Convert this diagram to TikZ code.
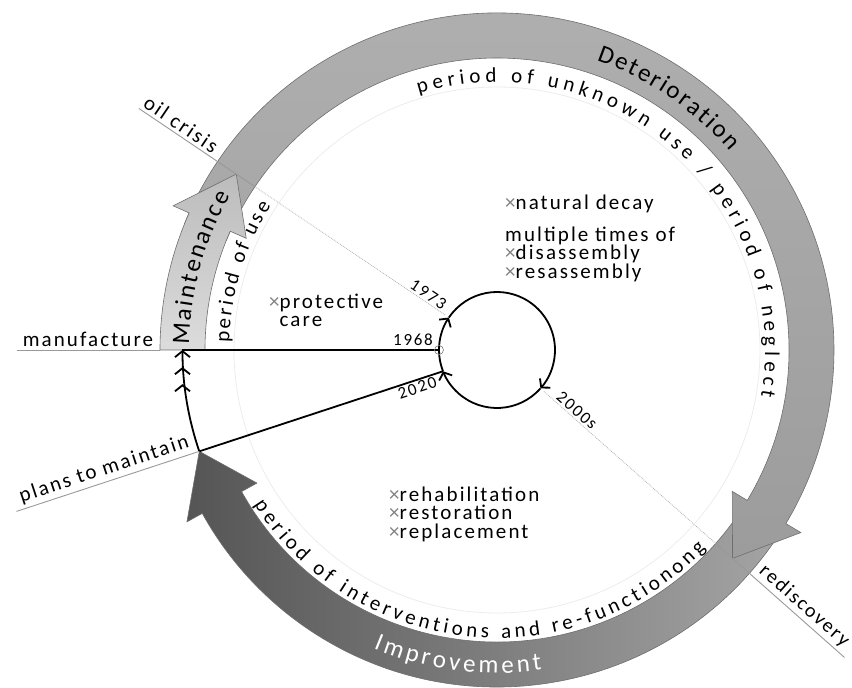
\documentclass[tikz,border=0pt]{standalone}
\usepackage{fontspec}
\setmainfont{Carlito}[LetterSpace=10]
\newfontfamily\ringfamily{Carlito}
\usetikzlibrary{arrows.meta, decorations.text, calc}

\definecolor{maintlight}{HTML}{DCDCDC}
\definecolor{maintdark}{HTML}{BCBCBC}
\definecolor{detlight}{HTML}{B0B0B0}
\definecolor{detdark}{HTML}{9C9C9C}
\definecolor{impdark}{HTML}{555555}
\definecolor{implight}{HTML}{A4A4A4}
\definecolor{bandedge}{HTML}{6E6E6E}
\newcommand{\crs}{\textcolor{gray}{×}}
\newcommand{\bandfont}{\ringfamily\fontsize{25}{25}\selectfont}
\newcommand{\ringfont}{\ringfamily\fontsize{21}{21}\selectfont}

\begin{document}
\begin{tikzpicture}
        [x=1pt, y=1pt,
        labeltext/.style={font=\fontsize{21}{18.5}\selectfont, inner sep=0pt},
        yeartext/.style={font=\fontsize{17}{17}\selectfont, inner sep=2pt},
        bandline/.style={draw=bandedge, line width=0.6pt},
        thickline/.style={line width=1.8pt, black},
        extline/.style={draw=gray!80, line width=0.9pt},
        dotline/.style={draw=gray!60, line width=0.8pt, densely dotted},
        barb/.style={-{Straight Barb[length=6pt, width=14pt]}},
        tripletip/.style={-{Straight Barb[length=6pt, width=15pt, sep=9pt]Straight Barb[length=6pt, width=15pt, sep=9pt]Straight Barb[length=6pt, width=15pt]}}]

    \useasboundingbox (-497,-338) rectangle (355,350);

    \draw[gray!15, line width=0.8pt] (0,0) circle[radius=263];

    \draw[bandline, left color=impdark, right color=implight]
      (-33:337) arc[start angle=-33, end angle=-151, radius=337]
      -- (-151:354.5) -- (-161.2:314.5) -- (-151:274.5)
      -- (-151:292) arc[start angle=-151, end angle=-33, radius=292] -- cycle;
    \draw[bandline, top color=detlight, bottom color=detdark]
      (158:337) arc[start angle=158, end angle=-31, radius=337]
      -- (-31:354.5) -- (-41.5:314.5) -- (-31:274.5)
      -- (-31:292) arc[start angle=-31, end angle=158, radius=292] -- cycle;
    \draw[bandline, bottom color=maintlight, top color=maintdark]
      (180:337) arc[start angle=180, end angle=156, radius=337]
      -- (156:354.5) -- (146:314.5) -- (156:274.5)
      -- (156:292) arc[start angle=156, end angle=180, radius=292] -- cycle;

    \coordinate (oilend) at (146:432);
    \coordinate (oilband) at (146:292);
    \coordinate (oilsmall) at (146:62);
    \coordinate (redend) at (-41.5:464);
    \coordinate (redband) at (-41.5:292);
    \coordinate (redsmall) at (-41.5:62);
    \coordinate (manend) at (180:480);
    \coordinate (manband) at (180:337);
    \coordinate (start) at (180:314.5);
    \coordinate (P) at (-161.2:314.5);
    \coordinate (S1) at (180:58);
    \coordinate (S2) at (-158.5:58);
    \coordinate (E) at ($(S2)!1.75!(P)$);

    \draw[extline] (oilend) -- (oilband);
    \draw[dotline] (oilband) -- (oilsmall);
    \draw[extline] (redend) -- (redband);
    \draw[dotline] (redband) -- (redsmall);
    \draw[extline] (manend) -- (manband);

    \path[decorate, decoration={text along path, text align={fit to path},
      text={|\bandfont|Maintenance}}]
      (179:308) arc[start angle=179, end angle=150, radius=308];
    \path[decorate, decoration={text along path, text align={fit to path},
      text={|\bandfont|Deterioration}}]
      (71:306) arc[start angle=71, end angle=40.5, radius=306];
    \path[decorate, decoration={text along path, text align={fit to path},
      text={|\bandfont\color{white}|Improvement}}]
      (-112.5:323) arc[start angle=-112.5, end angle=-82, radius=323];
    \path[decorate, decoration={text along path, text align={fit to path},
      text={|\ringfont|period of use}}]
      (178.5:268) arc[start angle=178.5, end angle=147.5, radius=268];
    \path[decorate, decoration={text along path, text align={fit to path},
      text={|\ringfont|period of unknown use / period of neglect}}]
      (107:268) arc[start angle=107, end angle=-10, radius=268];
    \path[decorate, decoration={text along path, text align={fit to path},
      text={|\ringfont|period of interventions and re-functionong}}]
      (-147.5:288) arc[start angle=-147.5, end angle=-43.5, radius=288];

    \draw[thickline] (start) -- (S1);
    \draw[thickline] (P) -- (S2);
    \draw[thickline, tripletip] (P) arc[start angle=-161.2, end angle=-180, radius=314.5];
    \draw[thickline, barb] (S1) arc[start angle=180, end angle=146, radius=58];
    \draw[thickline, barb] (146:58) arc[start angle=146, end angle=-41.5, radius=58];
    \draw[thickline, barb] (-41.5:58) arc[start angle=-41.5, end angle=-158.5, radius=58];
    \draw[thickline] (S2) arc[start angle=-158.5, end angle=-180, radius=58];
    \draw[gray, line width=0.6pt] (S1) circle[radius=4.5];

    \draw[extline] (E) -- (P)
      node[midway, sloped, above, labeltext, inner sep=3pt] (plans) {plans to maintain};
    \path (P) -- (S2)
      node[pos=0.97, sloped, anchor=north east, yeartext] (y2020) {2020};

    \node[labeltext, anchor=south, inner sep=3pt] (manuf) at (180:409) {manufacture};
    \node[labeltext, rotate=-34, anchor=south, inner sep=3pt] (oil) at (146:388) {oil crisis};
    \node[labeltext, font=\fontsize{20}{20}\selectfont, rotate=-41.5, anchor=south, inner sep=3pt]
      (redisc) at (-41.5:400) {rediscovery};
    \node[yeartext, anchor=base east, inner sep=0pt] (y1968) at (-64,4) {1968};
    \node[yeartext, rotate=-34, anchor=south] (y1973) at (146:88) {1973};
    \node[yeartext, rotate=-41.5, anchor=south] (y2000) at (-41.5:100) {2000s};

    \node[labeltext, anchor=north west, align=left] (protect) at (-228,56.5)
      {\crs protective\\\phantom{\crs}care};
    \node[labeltext, anchor=north west] (decay) at (8,155.5) {\crs natural decay};
    \node[labeltext, anchor=north west, align=left] (multi) at (8,123.5)
      {multiple times of\\\crs disassembly\\\crs resassembly};
    \node[labeltext, anchor=north west, align=left] (interv) at (-108,-136.5)
      {\crs rehabilitation\\\crs restoration\\\crs replacement};
    \end{tikzpicture}
\end{document}
